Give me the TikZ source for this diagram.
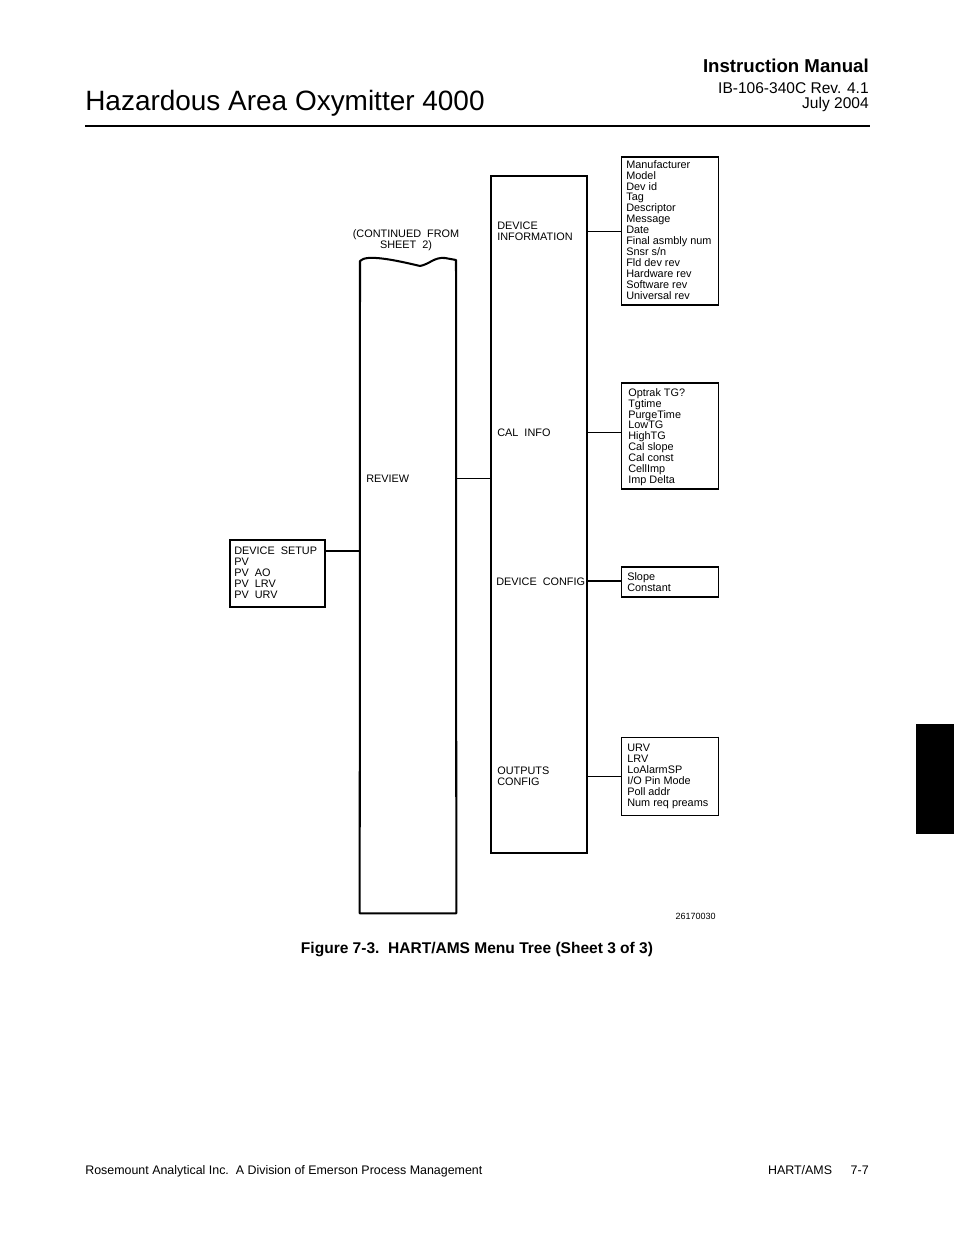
\documentclass[tikz,border=0pt]{standalone}
\usepackage{fontspec}
\setmainfont{Liberation Sans}
\usetikzlibrary{fit}
\begin{document}
\begin{tikzpicture}[x=0.6415bp,y=-0.6415bp,
  txt/.style={inner sep=0pt, font=\fontsize{7}{7.03}\selectfont, align=left},
  leaf/.style={draw, line width=0.65bp, inner sep=0pt},
  big/.style={draw, line width=1.3bp, inner sep=0pt},
  thinline/.style={line width=0.65bp},
  thickline/.style={line width=1.3bp},
  shadeedge/.style={line width=1.2bp}]
\useasboundingbox (0,0) rectangle (954,1235);

% header
\node[anchor=base west, inner sep=0pt, font=\fontsize{18}{18}\selectfont] (title) at (85,111) {Hazardous Area Oxymitter 4000};
\node[anchor=base east, inner sep=0pt, font=\bfseries\fontsize{12}{12}\selectfont] (im) at (869,73) {Instruction Manual};
\node[anchor=base east, inner sep=0pt, font=\fontsize{10}{10}\selectfont] (rev) at (869,94) {IB-106-340C Rev. 4.1};
\node[anchor=base east, inner sep=0pt, font=\fontsize{10}{10}\selectfont] (date) at (869,109) {July 2004};
\coordinate (hl) at (85,126);
\coordinate (hr) at (870,126);
\draw[thinline] (hl) -- (hr);

% side tab
\fill[black] (916,724) rectangle (954,834);

% review column
\node[fit={(360,260) (456,913)}, inner sep=0pt] (review) {};
\draw[thickline, line join=round] (review.south west) -- (360,261)
  .. controls (366,254) and (395,260) .. (420,266)
  .. controls (430,264) and (434,257) .. (445,258)
  -- (456,260) -- (review.south east) -- cycle;
\node[txt, align=center, anchor=north] (cont) at (406,229) {(CONTINUED\ \ FROM\\SHEET\ \ 2)};
\node[txt, anchor=base west] (reviewlbl) at (366,482) {REVIEW};

% middle column
\node[big, fit={(491,176) (587,853)}] (mid) {};
\node[txt, anchor=north west] (infolbl) at (497,222) {DEVICE\\INFORMATION};
\node[txt, anchor=base west] (callbl) at (497,436) {CAL\ \ INFO};
\node[txt, anchor=base west] (cfglbl) at (496,585) {DEVICE\ \ CONFIG};
\node[txt, anchor=north west] (outlbl) at (497,767) {OUTPUTS\\CONFIG};

% leaf boxes
\node[leaf, fit={(621,157) (718,305)}] (info) {};
\node[leaf, fit={(621,383) (718,489)}] (cal) {};
\node[leaf, fit={(621,567) (718,597)}] (cfg) {};
\node[leaf, fit={(621,737) (718,815)}] (out) {};
\node[leaf, fit={(230,540) (325,607)}] (setup) {};
\foreach \n in {info,cal,cfg,out,setup}
  \draw[shadeedge] (\n.north east) -- (\n.south east) -- (\n.south west);

\node[txt, anchor=north west] (infotxt) at (626,160) {Manufacturer\\Model\\Dev id\\Tag\\Descriptor\\Message\\Date\\Final asmbly num\\Snsr s/n\\Fld dev rev\\Hardware rev\\Software rev\\Universal rev};
\node[txt, anchor=north west] (caltxt) at (628,388) {Optrak TG?\\Tgtime\\PurgeTime\\LowTG\\HighTG\\Cal slope\\Cal const\\CellImp\\Imp Delta};
\node[txt, anchor=north west] (cfgtxt) at (627,572) {Slope\\Constant};
\node[txt, anchor=north west] (outtxt) at (627,744) {URV\\LRV\\LoAlarmSP\\I/O Pin Mode\\Poll addr\\Num req preams};
\node[txt, anchor=north west] (setuptxt) at (234,547) {DEVICE\ \ SETUP\\PV\\PV\ \ AO\\PV\ \ LRV\\PV\ \ URV};

% connectors
\coordinate (sj) at (325,551);
\draw[thickline] (sj) -- (sj -| review.west);
\draw[thinline] (reviewlbl.west -| review.east) -- (reviewlbl.west -| mid.west);
\draw[thinline] (infolbl.west -| mid.east) -- (infolbl.west -| info.west);
\draw[thinline] (callbl.west -| mid.east) -- (callbl.west -| cal.west);
\draw[thickline] (cfglbl.west -| mid.east) -- (cfglbl.west -| cfg.west);
\draw[thinline] (outlbl.west -| mid.east) -- (outlbl.west -| out.west);

% figure number and caption
\node[anchor=base east, inner sep=0pt, font=\fontsize{5.8}{6}\selectfont] (fignum) at (716,919) {26170030};
\node[anchor=base, inner sep=0pt, font=\bfseries\fontsize{10}{10}\selectfont] (caption) at (477,953) {Figure 7-3.\ \ HART/AMS Menu Tree (Sheet 3 of 3)};

% footer
\node[anchor=base west, inner sep=0pt, font=\fontsize{8}{8}\selectfont] (footl) at (85,1174) {Rosemount Analytical Inc.\ \ A Division of Emerson Process Management};
\node[anchor=base east, inner sep=0pt, font=\fontsize{8}{8}\selectfont] (footr) at (869,1174) {HART/AMS\hspace{1.5em}7-7};
\end{tikzpicture}
\end{document}
